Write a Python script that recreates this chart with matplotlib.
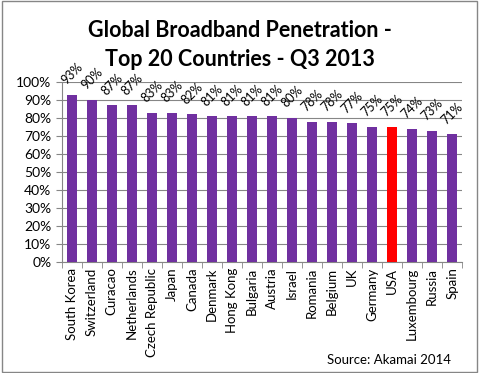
import numpy as np
import matplotlib
matplotlib.use('Agg')
import matplotlib.pyplot as plt
from matplotlib.patches import Rectangle

countries = ['South Korea', 'Switzerland', 'Curacao', 'Netherlands', 'Czech Republic',
             'Japan', 'Canada', 'Denmark', 'Hong Kong', 'Bulgaria', 'Austria', 'Israel',
             'Romania', 'Belgium', 'UK', 'Germany', 'USA', 'Luxembourg', 'Russia', 'Spain']
values = [93, 90, 87, 87, 83, 83, 82, 81, 81, 81, 81, 80, 78, 78, 77, 75, 75, 74, 73, 71]
highlight = 'USA'

plt.rcParams['font.family'] = ['Lato', 'DejaVu Sans']

fig = plt.figure(figsize=(4.79, 3.73), dpi=100)
ax = fig.add_axes([0.129, 0.2976, 0.836, 0.4826])

x = np.arange(len(countries))
colors = ['#FF0000' if c == highlight else '#7030A0' for c in countries]
ax.bar(x, values, width=0.5, color=colors, zorder=3)

for xi, v in zip(x, values):
    ax.text(xi, v + 4.5, '%d%%' % v, rotation=45, ha='center', va='bottom',
            fontsize=9, zorder=4)

ax.set_ylim(0, 100)
ax.set_xlim(-0.5, len(countries) - 0.5)
ax.set_yticks(np.arange(0, 101, 10))
ax.set_yticklabels(['%d%%' % t for t in range(0, 101, 10)], fontsize=10)
ax.set_xticks(x)
ax.set_xticklabels(countries, rotation=90, fontsize=9.5)
ax.tick_params(axis='x', length=0, pad=4)
ax.tick_params(axis='y', length=4, direction='out', color='#868686')
ax.set_xticks(np.arange(-0.5, len(countries)), minor=True)
ax.tick_params(axis='x', which='minor', length=4, color='#868686')
ax.grid(axis='y', color='#868686', linewidth=0.8, zorder=0)
for s in ['top', 'right']:
    ax.spines[s].set_visible(False)
ax.spines['left'].set_color('#868686')
ax.spines['bottom'].set_color('#868686')

fig.text(0.5, 0.88, 'Global Broadband Penetration -\nTop 20 Countries - Q3 2013',
         ha='center', va='center', fontsize=15.5, fontweight='bold', linespacing=1.45)
fig.text(0.942, 0.035, 'Source: Akamai 2014', ha='right', va='center', fontsize=9.5)

fig.patches.append(Rectangle((0.004, 0.004), 0.992, 0.992, transform=fig.transFigure,
                             fill=False, edgecolor='#868686', linewidth=1))

fig.savefig('out.png', dpi=100)
